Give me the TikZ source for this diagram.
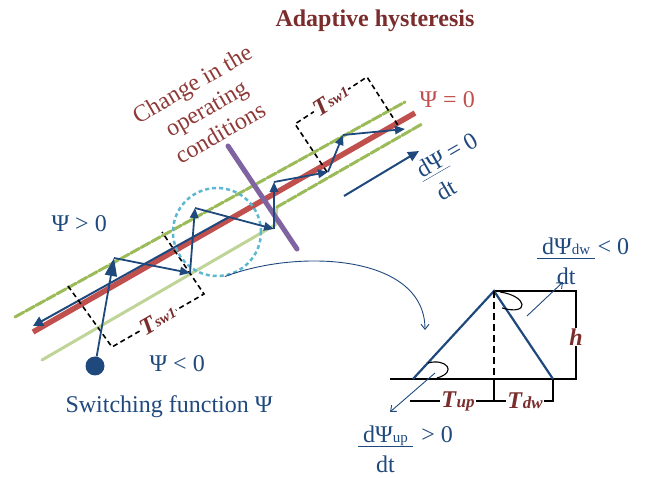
\documentclass[tikz,border=0pt]{standalone}
\usepackage{fontspec}
\setmainfont{Liberation Serif}
\usetikzlibrary{arrows.meta,calc,positioning}
\definecolor{swblue}{HTML}{1F497D}
\definecolor{psired}{HTML}{C0504D}
\definecolor{bandgreen}{HTML}{9BBB59}
\definecolor{palegreen}{HTML}{BFD497}
\definecolor{titlered}{HTML}{7B2C2C}
\definecolor{condred}{HTML}{8E3B38}
\definecolor{opviolet}{HTML}{8064A2}
\definecolor{zoomcyan}{HTML}{5BB8D0}
\newcommand{\ratelbl}[3][5pt]{\begin{tabular}[t]{@{}c@{}}\underline{\hspace{#1}\raisebox{0pt}[\height][2pt]{#2}\hspace{#1}}\\[2pt]#3\end{tabular}}
\newcommand{\sublbl}[1]{{\fontsize{15}{15}\selectfont #1}}
\newcommand{\perlbl}[3][0pt]{\textbf{\textit{T}}\raisebox{#1}{\fontsize{#2}{#2}\selectfont\bfseries\itshape #3}}
\tikzset{
  traj/.style={swblue,line width=1.8pt,-{Triangle[length=10pt,width=8.5pt]}},
  guard/.style={line width=3pt,line cap=round},
  tswbox/.style={line width=1.6pt,dash pattern=on 5pt off 3.5pt},
  gap/.style={fill=white,inner sep=1pt},
  thinarr/.style={swblue,line width=0.9pt,-{Straight Barb[length=5pt,width=8pt]}},
  dimline/.style={line width=1.1pt},
  rate/.style={swblue,anchor=base west,inner sep=0pt},
}

\begin{document}
\begin{tikzpicture}[x=1pt,y=-1pt,font=\fontsize{24}{28}\selectfont]
  \useasboundingbox (0,0) rectangle (646,478);
  % hysteresis band and the surface
  \coordinate (ugA) at (15,317);  \coordinate (ugB) at (405,102);
  \coordinate (lgA) at (42,360);  \coordinate (lgK) at (275,225);
  \coordinate (lgJ) at (277,207); \coordinate (lgB) at (422,124);
  \coordinate (psiA) at (33,332); \coordinate (psiB) at (415,113);
  \coordinate (slA) at (229,217); \coordinate (slB) at (33,326);
  \draw[bandgreen,guard,dash pattern=on 10pt off 2pt] (ugA) -- (ugB);
  \draw[palegreen,guard] (lgA) -- (lgK) -- (lgJ);
  \draw[bandgreen,guard,dash pattern=on 10pt off 2pt] (lgJ) -- (lgB);
  \draw[psired,line width=5.5pt] (psiA) -- (psiB);
  \draw[swblue,line width=2pt,-{Triangle[length=10pt,width=10pt]}] (slA) -- (slB);
  % switching periods
  \draw[tswbox] (68,286) -- (112,347)
    -- node[gap,sloped,text=titlered] (tswlow) {\perlbl[2pt]{15}{sw1}} (204,294) -- (162,232);
  \draw[tswbox] (327,172) -- (295,124)
    -- node[gap,sloped,text=titlered] (tswup) {\perlbl[2pt]{15}{sw1}} (367,77) -- (399,127);
  % zoomed region and change of conditions
  \node[circle,draw=zoomcyan,line width=2.5pt,dash pattern=on 4pt off 3pt,
    minimum size=88pt,inner sep=0pt] (zoom) at (217,232) {};
  \draw[opviolet,line width=5pt,line cap=round] (228,146) -- (297,249);
  % trajectory of the switching function
  \node[circle,fill=swblue,inner sep=0pt,minimum size=19pt] (start) at (95,366) {};
  \coordinate (z1) at (114,258); \coordinate (z2) at (190,273);
  \coordinate (z3) at (195,208); \coordinate (z4) at (274,229);
  \coordinate (z5) at (274,182); \coordinate (z6) at (328,172);
  \coordinate (z7) at (343,135); \coordinate (z8) at (405,129);
  \draw[traj,-{Triangle[length=18pt,width=12pt]}] (start) -- (z1);
  \foreach \a/\b in {z1/z2,z2/z3,z3/z4,z4/z5,z5/z6,z6/z7,z7/z8}
    \draw[traj] (\a) -- (\b);
  \coordinate (dirA) at (344,196); \coordinate (dirB) at (419,151);
  \draw[swblue,line width=2pt,-{Triangle[length=11pt,width=10pt]}] (dirA) -- (dirB);
  % texts
  \node[titlered,font=\fontsize{24}{28}\selectfont\bfseries,anchor=base west]
    (title) at (272,27) {Adaptive hysteresis};
  \node[condred,rotate=30,align=center] (cond) at (206,108)
    {Change in the\\operating\\conditions};
  \node[psired,anchor=base west] (psizero) at (416,108) {Ψ = 0};
  \node[swblue,anchor=base west] (psipos) at (48,232) {Ψ > 0};
  \node[swblue,anchor=base west] (psineg) at (146,372) {Ψ < 0};
  \node[swblue,anchor=base west] (swfun) at (62,413) {Switching function Ψ};
  \node[swblue,rotate=30] (rate0) at (455,170) {\ratelbl[1pt]{dΨ}{dt}\,= 0};
  % zoomed view of one switching period
  \coordinate (tl) at (413,379); \coordinate (tp) at (494,291);
  \coordinate (tr) at (553,379); \coordinate (tf) at (494,379);
  \draw[thinarr] (zoom.-80) .. controls (300,248) and (425,255) .. (425,330);
  \draw[dimline] (390,379) -- (577,379);
  \draw[dimline] (tp) -- (576,291) -- (576,379);
  \node[gap,text=titlered] (hlbl) at (576,337) {\textbf{\textit{h}}};
  \draw[dimline] (tf) -- (494,401);
  \draw[dimline] (410,401) -- (553,401) -- (tr);
  \node[gap,text=titlered] (tup) at (458,401) {\perlbl{17}{up}};
  \node[gap,text=titlered] (tdw) at (525,401) {\perlbl{17}{dw}};
  \draw[swblue,line width=2.2pt] (tl) -- (tp) -- (tr);
  \draw[line width=1.8pt,dash pattern=on 7pt off 4pt] (tp) -- (tf);
  \draw[line width=1.1pt] (428,363) .. controls (446,358) and (458,372) .. (437,378);
  \draw[line width=1.1pt] (500,292) .. controls (528,296) and (530,316) .. (502,308);
  \draw[thinarr] (527,316) -- (563,282);
  \draw[thinarr] (435,373) -- (390,412);
  \node[rate] (dwrate) at (537,255) {\ratelbl{dΨ\sublbl{dw}}{dt}};
  \node[rate] (dwsign) at ([xshift=2pt]dwrate.base east) {< 0};
  \node[rate] (uprate) at (358,443) {\ratelbl{dΨ\sublbl{up}}{dt}};
  \node[rate] (upsign) at ([xshift=8pt]uprate.base east) {> 0};
\end{tikzpicture}
\end{document}
